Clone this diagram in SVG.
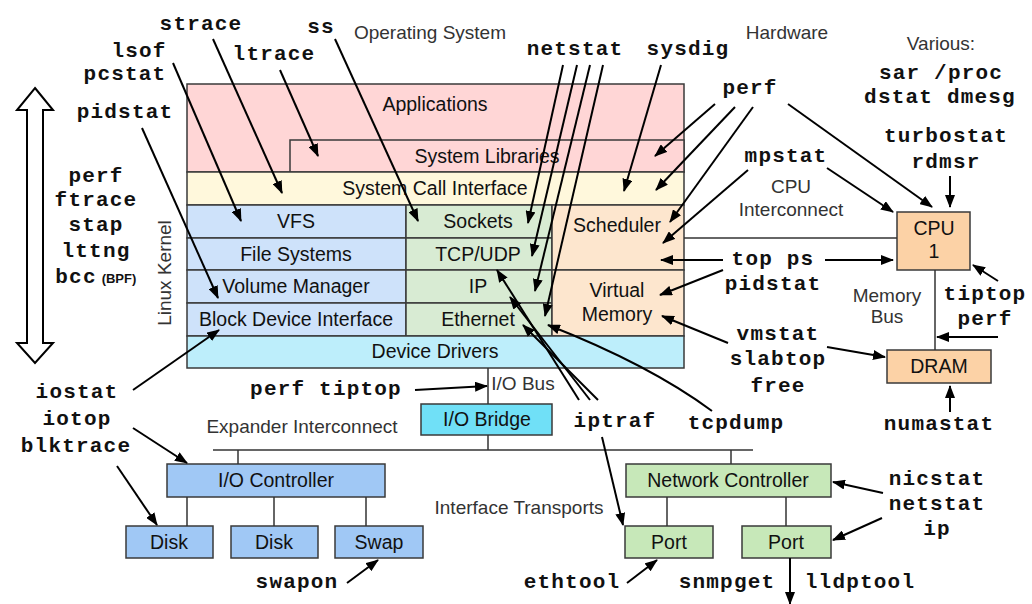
<svg xmlns="http://www.w3.org/2000/svg" width="1032" height="604" viewBox="0 0 1032 604">
<defs>
<marker id="ah" markerUnits="userSpaceOnUse" markerWidth="13" markerHeight="10" refX="12" refY="5" orient="auto">
<path d="M0,0 L13,5 L0,10 z" fill="#000"/>
</marker>
<style>
.box{stroke:#3a3a3a;stroke-width:1.5}
.lbl{font-family:"Liberation Sans",Arial,sans-serif;font-size:19.5px;fill:#111;text-anchor:middle}
.ann{font-family:"Liberation Sans",Arial,sans-serif;font-size:19px;fill:#333;text-anchor:middle}
.tool{font-family:"Liberation Mono","Courier New",monospace;font-size:21px;letter-spacing:1.2px;font-weight:bold;fill:#111;text-anchor:middle}
.arr{stroke:#000;stroke-width:2;fill:none;marker-end:url(#ah)}
.bus{stroke:#333;stroke-width:1.5;fill:none}
.app{fill:#ffd6d6}.sci{fill:#fff8dc}.blu{fill:#cee2fa}.grn{fill:#d8ebd3}.org{fill:#fde6ce}.dd{fill:#bdeefb}
</style>
</defs>
<rect width="1032" height="604" fill="#fff"/>

<g id="big-arrow">
<polygon points="35,88 53,110 43,110 43,343 53,343 35,363 17,343 27,343 27,110 17,110" fill="#fff" stroke="#000" stroke-width="2"/>
</g>

<g id="stack">
<g id="applications"><rect class="box app" x="187" y="84" width="497" height="88"/><text class="lbl" x="435" y="111">Applications</text></g>
<g id="system-libraries"><rect class="box app" x="290" y="140" width="394" height="32"/><text class="lbl" x="487" y="163">System Libraries</text></g>
<g id="sci"><rect class="box sci" x="187" y="172" width="497" height="33"/><text class="lbl" x="435" y="195">System Call Interface</text></g>
<g id="vfs"><rect class="box blu" x="187" y="205" width="219" height="33"/><text class="lbl" x="296" y="228">VFS</text></g>
<g id="fs"><rect class="box blu" x="187" y="238" width="219" height="32"/><text class="lbl" x="296" y="261">File Systems</text></g>
<g id="vm"><rect class="box blu" x="187" y="270" width="219" height="33"/><text class="lbl" x="296" y="293">Volume Manager</text></g>
<g id="bdi"><rect class="box blu" x="187" y="303" width="219" height="33"/><text class="lbl" x="296" y="326">Block Device Interface</text></g>
<g id="sockets"><rect class="box grn" x="406" y="205" width="146" height="33"/><text class="lbl" x="478" y="228">Sockets</text></g>
<g id="tcpudp"><rect class="box grn" x="406" y="238" width="146" height="32"/><text class="lbl" x="478" y="261">TCP/UDP</text></g>
<g id="ip"><rect class="box grn" x="406" y="270" width="146" height="33"/><text class="lbl" x="478" y="293">IP</text></g>
<g id="ethernet"><rect class="box grn" x="406" y="303" width="146" height="33"/><text class="lbl" x="478" y="326">Ethernet</text></g>
<g id="scheduler"><rect class="box org" x="552" y="205" width="132" height="65"/><text class="lbl" x="617" y="232">Scheduler</text></g>
<g id="virtual-memory"><rect class="box org" x="552" y="270" width="132" height="66"/><text class="lbl" x="617" y="297">Virtual</text><text class="lbl" x="617" y="321">Memory</text></g>
<g id="device-drivers"><rect class="box dd" x="187" y="336" width="497" height="32"/><text class="lbl" x="435" y="358">Device Drivers</text></g>
</g>

<g id="hw-nodes">
<g id="cpu"><rect class="box" fill="#fcd2a6" x="897" y="212" width="73" height="58"/><text class="lbl" x="934" y="235">CPU</text><text class="lbl" x="934" y="258">1</text></g>
<g id="dram"><rect class="box" fill="#fcd2a6" x="887" y="350" width="104" height="33"/><text class="lbl" x="939" y="373">DRAM</text></g>
<g id="io-bridge"><rect class="box" fill="#70e0f7" x="421" y="404" width="131" height="31"/><text class="lbl" x="487" y="426">I/O Bridge</text></g>
<g id="io-controller"><rect class="box" fill="#a0c8f5" x="167" y="464" width="218" height="33"/><text class="lbl" x="276" y="487">I/O Controller</text></g>
<g id="disk1"><rect class="box" fill="#a0c8f5" x="126" y="526" width="87" height="32"/><text class="lbl" x="169" y="549">Disk</text></g>
<g id="disk2"><rect class="box" fill="#a0c8f5" x="231" y="526" width="87" height="32"/><text class="lbl" x="274" y="549">Disk</text></g>
<g id="swap"><rect class="box" fill="#a0c8f5" x="335" y="526" width="88" height="32"/><text class="lbl" x="379" y="549">Swap</text></g>
<g id="net-controller"><rect class="box" fill="#c7e8b9" x="626" y="464" width="205" height="33"/><text class="lbl" x="728" y="487">Network Controller</text></g>
<g id="port1"><rect class="box" fill="#c7e8b9" x="625" y="526" width="88" height="32"/><text class="lbl" x="669" y="549">Port</text></g>
<g id="port2"><rect class="box" fill="#c7e8b9" x="742" y="526" width="89" height="32"/><text class="lbl" x="786" y="549">Port</text></g>
</g>

<g id="buses">
<line class="bus" x1="684" y1="238" x2="897" y2="238"/>
<line class="bus" x1="935" y1="270" x2="935" y2="350"/>
<line class="bus" x1="488" y1="368" x2="488" y2="404"/>
<line class="bus" x1="488" y1="435" x2="488" y2="450"/>
<line class="bus" x1="213" y1="450" x2="753" y2="450"/>
<line class="bus" x1="238" y1="450" x2="238" y2="464"/>
<line class="bus" x1="731" y1="450" x2="731" y2="464"/>
<line class="bus" x1="187" y1="497" x2="187" y2="526"/>
<line class="bus" x1="274" y1="497" x2="274" y2="526"/>
<line class="bus" x1="366" y1="497" x2="366" y2="526"/>
<line class="bus" x1="667" y1="497" x2="667" y2="526"/>
<line class="bus" x1="786" y1="497" x2="786" y2="526"/>
</g>

<g id="labels">
<text class="ann" x="430" y="39">Operating System</text>
<text class="ann" x="787" y="39">Hardware</text>
<text class="ann" x="941" y="50">Various:</text>
<text class="ann" x="791" y="193">CPU</text>
<text class="ann" x="791" y="216">Interconnect</text>
<text class="ann" x="887" y="302">Memory</text>
<text class="ann" x="887" y="323">Bus</text>
<text class="ann" x="523" y="390">I/O Bus</text>
<text class="ann" x="302" y="433">Expander Interconnect</text>
<text class="ann" x="519" y="514">Interface Transports</text>
<text class="ann" transform="translate(171,273) rotate(-90)">Linux Kernel</text>
</g>

<g id="tools">
<text class="tool" x="201" y="30">strace</text>
<text class="tool" x="139" y="57">lsof</text>
<text class="tool" x="125" y="80">pcstat</text>
<text class="tool" x="274" y="60">ltrace</text>
<text class="tool" x="125" y="118">pidstat</text>
<text class="tool" x="321" y="33">ss</text>
<text class="tool" x="575" y="55">netstat</text>
<text class="tool" x="688" y="55">sysdig</text>
<text class="tool" x="941" y="79">sar /proc</text>
<text class="tool" x="940" y="103">dstat dmesg</text>
<text class="tool" x="750" y="94">perf</text>
<text class="tool" x="946" y="142">turbostat</text>
<text class="tool" x="946" y="168">rdmsr</text>
<text class="tool" x="786" y="162">mpstat</text>
<text class="tool" x="773" y="265">top ps</text>
<text class="tool" x="773" y="290">pidstat</text>
<text class="tool" x="985" y="300">tiptop</text>
<text class="tool" x="985" y="325">perf</text>
<text class="tool" x="778" y="340">vmstat</text>
<text class="tool" x="778" y="365">slabtop</text>
<text class="tool" x="778" y="392">free</text>
<text class="tool" x="939" y="430">numastat</text>
<text class="tool" x="736" y="429">tcpdump</text>
<text class="tool" x="615" y="427">iptraf</text>
<text class="tool" x="326" y="395">perf tiptop</text>
<text class="tool" x="77" y="398">iostat</text>
<text class="tool" x="77" y="425">iotop</text>
<text class="tool" x="76" y="452">blktrace</text>
<text class="tool" x="297" y="588">swapon</text>
<text class="tool" x="572" y="588">ethtool</text>
<text class="tool" x="727" y="588">snmpget</text>
<text class="tool" x="860" y="588">lldptool</text>
<text class="tool" x="937" y="485">nicstat</text>
<text class="tool" x="937" y="510">netstat</text>
<text class="tool" x="937" y="535">ip</text>
<text class="tool" x="96" y="182">perf</text>
<text class="tool" x="96" y="206">ftrace</text>
<text class="tool" x="96" y="231">stap</text>
<text class="tool" x="96" y="257">lttng</text>
<text class="tool" x="76" y="283">bcc</text>
<text x="119" y="283" style="font-family:'Liberation Sans',Arial,sans-serif;font-size:13px;font-weight:bold;fill:#111;text-anchor:middle">(BPF)</text>
</g>

<g id="connectors">
<line class="arr" x1="213" y1="39" x2="282" y2="193"/>
<line class="arr" x1="173" y1="63" x2="241" y2="221"/>
<line class="arr" x1="280" y1="70" x2="318" y2="156"/>
<line class="arr" x1="142" y1="128" x2="218" y2="298"/>
<line class="arr" x1="335" y1="39" x2="418" y2="221"/>
<line class="arr" x1="563" y1="65" x2="528" y2="223"/>
<line class="arr" x1="577" y1="65" x2="532" y2="256"/>
<line class="arr" x1="590" y1="65" x2="535" y2="291"/>
<line class="arr" x1="603" y1="65" x2="545" y2="316"/>
<line class="arr" x1="661" y1="65" x2="624" y2="191"/>
<line class="arr" x1="715" y1="104" x2="655" y2="156"/>
<line class="arr" x1="735" y1="107" x2="656" y2="190"/>
<line class="arr" x1="753" y1="107" x2="670" y2="222"/>
<line class="arr" x1="788" y1="104" x2="932" y2="207"/>
<line class="arr" x1="748" y1="170" x2="663" y2="243"/>
<line class="arr" x1="827" y1="168" x2="893" y2="212"/>
<line class="arr" x1="950" y1="176" x2="950" y2="207"/>
<line class="arr" x1="723" y1="260" x2="661" y2="260"/>
<line class="arr" x1="825" y1="260" x2="893" y2="260"/>
<line class="arr" x1="723" y1="270" x2="660" y2="295"/>
<line class="arr" x1="998" y1="281" x2="973" y2="265"/>
<line class="arr" x1="998" y1="337" x2="937" y2="337"/>
<line class="arr" x1="728" y1="343" x2="662" y2="316"/>
<line class="arr" x1="827" y1="347" x2="885" y2="357"/>
<line class="arr" x1="950" y1="412" x2="950" y2="386"/>
<path class="arr" d="M712,411 Q650,365 548,325"/>
<line class="arr" x1="579" y1="400" x2="497" y2="270"/>
<line class="arr" x1="590" y1="400" x2="510" y2="297"/>
<line class="arr" x1="598" y1="400" x2="523" y2="325"/>
<line class="arr" x1="602" y1="437" x2="623" y2="525"/>
<line class="arr" x1="415" y1="390" x2="487" y2="386"/>
<line class="arr" x1="133" y1="390" x2="219" y2="330"/>
<line class="arr" x1="133" y1="428" x2="187" y2="463"/>
<line class="arr" x1="117" y1="466" x2="157" y2="525"/>
<line class="arr" x1="347" y1="583" x2="378" y2="560"/>
<line class="arr" x1="627" y1="583" x2="657" y2="560"/>
<line class="arr" x1="790" y1="558" x2="790" y2="604"/>
<line class="arr" x1="883" y1="493" x2="833" y2="482"/>
<line class="arr" x1="882" y1="518" x2="833" y2="540"/>
</g>
</svg>
